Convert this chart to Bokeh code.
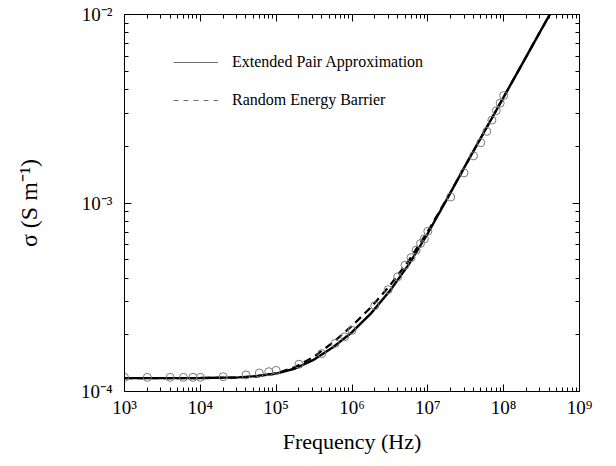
from bokeh.plotting import figure
from bokeh.models import (ColumnDataSource, Range1d, LogAxis, FixedTicker,
                          CustomJSTickFormatter, Legend, LegendItem)
from bokeh.embed import file_html
from bokeh.resources import INLINE

# ---------------- data ----------------
# Extended Pair Approximation (solid line)
epa_freq = [1.0e3, 3.16e3, 1.0e4, 3.16e4, 5.62e4, 1.0e5, 1.78e5, 3.16e5, 5.62e5,
            1.0e6, 1.78e6, 3.16e6, 5.62e6, 1.0e7, 1.78e7, 3.16e7, 5.62e7,
            1.0e8, 1.78e8, 3.16e8, 5.62e8]
epa_sigma = [1.178e-4, 1.178e-4, 1.180e-4, 1.189e-4, 1.208e-4, 1.245e-4, 1.324e-4,
             1.477e-4, 1.716e-4, 2.063e-4, 2.597e-4, 3.423e-4, 4.726e-4, 6.910e-4,
             1.046e-3, 1.592e-3, 2.410e-3, 3.648e-3, 5.521e-3, 8.356e-3, 1.265e-2]

# Random Energy Barrier (dashed line)
reb_freq = [1.0e3, 3.16e3, 1.0e4, 3.16e4, 5.62e4, 1.0e5, 1.78e5, 3.16e5, 5.62e5,
            1.0e6, 1.78e6, 3.16e6, 5.62e6, 1.0e7, 1.78e7, 3.16e7, 5.62e7,
            1.0e8, 1.78e8, 3.16e8, 5.62e8]
reb_sigma = [1.178e-4, 1.178e-4, 1.178e-4, 1.186e-4, 1.202e-4, 1.245e-4, 1.349e-4,
             1.531e-4, 1.820e-4, 2.228e-4, 2.799e-4, 3.648e-4, 4.955e-4, 7.079e-4,
             1.052e-3, 1.592e-3, 2.410e-3, 3.648e-3, 5.521e-3, 8.356e-3, 1.265e-2]

# measured points (open circles)
meas_freq = [1e3, 2e3, 4e3, 6e3, 8e3, 1e4, 2e4, 4e4, 6e4, 8e4, 1e5, 2e5, 4e5, 6e5, 8e5,
             1e6, 2e6, 3e6, 4e6, 5e6, 6e6, 7e6, 8e6, 9e6, 1e7,
             2e7, 3e7, 4e7, 5e7, 6e7, 7e7, 8e7, 9e7, 1e8]
meas_sigma = [1.189e-4, 1.189e-4, 1.189e-4, 1.189e-4, 1.189e-4, 1.189e-4, 1.199e-4,
              1.225e-4, 1.253e-4, 1.274e-4, 1.294e-4, 1.396e-4, 1.589e-4, 1.799e-4,
              1.950e-4, 2.113e-4, 2.851e-4, 3.467e-4, 4.055e-4, 4.677e-4, 5.129e-4,
              5.623e-4, 6.095e-4, 6.457e-4, 7.079e-4, 1.076e-3, 1.445e-3, 1.778e-3,
              2.089e-3, 2.399e-3, 2.754e-3, 3.090e-3, 3.388e-3, 3.715e-3]

# axes
freq_ticks = [1e3, 1e4, 1e5, 1e6, 1e7, 1e8, 1e9]
freq_tick_labels = ["10³", "10⁴", "10⁵", "10⁶", "10⁷", "10⁸", "10⁹"]
freq_minor = [m * d for d in [1e3, 1e4, 1e5, 1e6, 1e7, 1e8] for m in range(2, 10)]
sigma_ticks = [1e-4, 1e-3, 1e-2]
sigma_tick_labels = ["10⁻⁴", "10⁻³", "10⁻²"]
sigma_minor = [m * d for d in [1e-4, 1e-3] for m in range(2, 10)]

series_labels = ["Extended Pair Approximation", "Random Energy Barrier"]
x_title = "Frequency (Hz)"
y_title = "σ (S m⁻¹)"

FONT = "Liberation Serif"

# ---------------- figure ----------------
p = figure(width=616, height=466, x_axis_type="log", y_axis_type="log",
           x_range=Range1d(1e3, 1e9), y_range=Range1d(1e-4, 1e-2),
           output_backend="svg", toolbar_location=None,
           min_border_left=124, min_border_right=37,
           min_border_top=14, min_border_bottom=75)
p.background_fill_color = "white"
p.border_fill_color = "white"
p.outline_line_color = "black"
p.outline_line_width = 1
p.xgrid.visible = False
p.ygrid.visible = False

def fmt(tvals, tlabels):
    return CustomJSTickFormatter(args=dict(tvals=tvals, tlabels=tlabels), code="""
        for (let i = 0; i < tvals.length; i++) {
            if (Math.abs(Math.log10(tvals[i]) - Math.log10(tick)) < 1e-6) return tlabels[i];
        }
        return "";
    """)

blank = CustomJSTickFormatter(code="return '';")

def style(ax):
    ax.axis_line_color = "black"
    ax.axis_line_width = 1
    ax.major_tick_in = 7
    ax.major_tick_out = 0
    ax.minor_tick_in = 4
    ax.minor_tick_out = 0
    ax.major_tick_line_color = "black"
    ax.minor_tick_line_color = "black"
    ax.major_label_text_font = FONT
    ax.major_label_text_font_size = "19px"
    ax.major_label_text_color = "black"
    ax.axis_label_text_font = FONT
    ax.axis_label_text_font_style = "normal"
    ax.axis_label_text_color = "black"
    ax.axis_label_text_font_size = "22px"

xt = FixedTicker(ticks=freq_ticks, minor_ticks=freq_minor)
yt = FixedTicker(ticks=sigma_ticks, minor_ticks=sigma_minor)

xa = p.xaxis[0]
xa.ticker = xt
xa.formatter = fmt(freq_ticks, freq_tick_labels)
style(xa)
xa.major_label_standoff = 5
xa.axis_label = x_title
xa.axis_label_standoff = 8

ya = p.yaxis[0]
ya.ticker = yt
ya.formatter = fmt(sigma_ticks, sigma_tick_labels)
style(ya)
ya.major_label_standoff = 12
ya.axis_label = y_title
ya.axis_label_standoff = 36
ya.axis_label_text_font_size = "24px"

top = LogAxis(ticker=xt, formatter=blank)
style(top)
top.major_label_standoff = 0
top.major_label_text_font_size = "0px"
p.add_layout(top, "above")

right = LogAxis(ticker=yt, formatter=blank)
style(right)
right.major_label_standoff = 0
right.major_label_text_font_size = "0px"
p.add_layout(right, "right")

# ---------------- glyphs ----------------
epa_src = ColumnDataSource(dict(x=epa_freq, y=epa_sigma))
reb_src = ColumnDataSource(dict(x=reb_freq, y=reb_sigma))
meas_src = ColumnDataSource(dict(x=meas_freq, y=meas_sigma))

p.line("x", "y", source=reb_src, line_color="black", line_width=2.2,
       line_dash="8 5")
p.line("x", "y", source=epa_src, line_color="black", line_width=2.4)
p.scatter("x", "y", source=meas_src, marker="circle", size=8,
          fill_color=None, line_color="#7a7a7a", line_width=1)

# legend proxies (thin grey samples as in the reference); hidden in the plot
leg_solid = p.line("x", "y", source=epa_src, line_color="#6f6f6f", line_width=1.2,
                   visible=False)
leg_dash = p.line("x", "y", source=reb_src, line_color="#6f6f6f", line_width=1.2,
                  line_dash="5 5", visible=False)

legend = Legend(items=[LegendItem(label=series_labels[0], renderers=[leg_solid]),
                       LegendItem(label=series_labels[1], renderers=[leg_dash])],
                location=(49, 281))
legend.border_line_color = None
legend.background_fill_alpha = 0
legend.padding = 0
legend.margin = 0
legend.spacing = 18
legend.glyph_width = 45
legend.glyph_height = 20
legend.label_height = 20
legend.label_standoff = 14
legend.label_text_font = FONT
legend.label_text_font_size = "16px"
legend.label_text_color = "black"
p.add_layout(legend, "center")

open("out.html", "w").write(file_html(p, INLINE))
